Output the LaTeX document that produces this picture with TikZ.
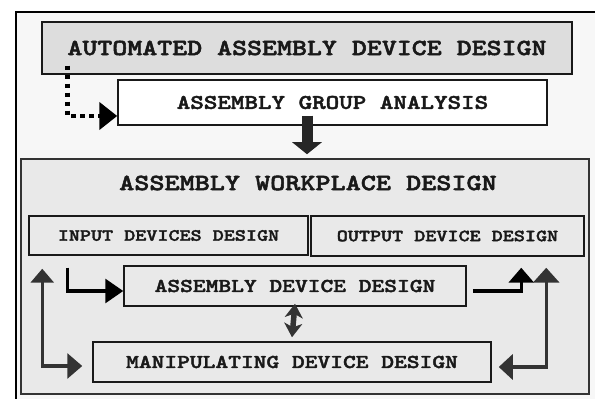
\documentclass[tikz,border=0pt]{standalone}
\usepackage{fontspec}
\newfontfamily\courbf[FakeStretch=1.24,FakeBold=2.2]{lmmonolt10-bold.otf}
\usetikzlibrary{arrows.meta,calc}

\definecolor{framebg}{HTML}{F7F7F7}
\definecolor{panelbg}{HTML}{E9E9E9}
\definecolor{headbg}{HTML}{DDDDDD}
\definecolor{darkline}{HTML}{333333}

\newcommand{\fsz}[1]{\fontsize{#1}{#1}\selectfont}

\tikzset{
  box/.style={draw=black!90, line width=1.5pt, fill=panelbg, inner sep=0pt, text=black!90},
  link/.style={line width=3.2pt},
}

\begin{document}
\begin{tikzpicture}[x=1pt,y=1pt]
\useasboundingbox (0,0) rectangle (595,399);
\fill[white] (0,0) rectangle (595,399);
% Frame
\draw[line width=1.2pt, fill=framebg] (16,387) rectangle (612,-12);

% Top part
\node[box, fill=headbg, minimum width=530pt, minimum height=52pt, font=\courbf\fsz{23}] (auto) at (307,351) {AUTOMATED ASSEMBLY DEVICE DESIGN};
\node[box, fill=white, minimum width=429pt, minimum height=45pt, font=\courbf\fsz{20.8}] (analysis) at (332.5,296.5) {ASSEMBLY GROUP ANALYSIS};

% Workplace
\node[box, draw=darkline, minimum width=568pt, minimum height=235pt] (panel) at (305,122.5) {};
\node[font=\courbf\fsz{23.2}, text=black!90] (ptitle) at (308,216) {ASSEMBLY WORKPLACE DESIGN};

\node[box, minimum width=279pt, minimum height=39pt, font=\courbf\fsz{17}] (input) at (168.5,163.5) {INPUT DEVICES DESIGN};
\node[box, minimum width=273pt, minimum height=40pt, font=\courbf\fsz{17}] (output) at (447.5,163) {OUTPUT DEVICE DESIGN};
\node[box, minimum width=342pt, minimum height=40pt, font=\courbf\fsz{19.6}] (assembly) at (295,113) {ASSEMBLY DEVICE DESIGN};
\node[box, minimum width=398pt, minimum height=40pt, font=\courbf\fsz{19.6}] (manip) at (292,37) {MANIPULATING DEVICE DESIGN};

% Arrows
\coordinate (d0) at ([shift={(26,9)}]auto.south west);
\draw[line width=4.5pt, dash pattern=on 4.5pt off 4.5pt, -{Triangle[length=18pt,width=27pt]}] (d0) |- ([yshift=-13.5pt]analysis.west);

\draw[line width=11pt, draw=black!85, -{Triangle[length=12pt,width=29pt]}] ($(auto.south |- analysis.south)+(0,10)$) -- ($(auto.south |- panel.north)+(0,4)$);

\coordinate (i0) at ([shift={(39,-12)}]input.south west);
\draw[link, -{Triangle[length=18pt,width=24pt]}] (i0) |- ([yshift=-5pt]assembly.west);

\coordinate (l0) at ([shift={(14,-13)}]input.south west);
\draw[link, draw=darkline, {Triangle[length=14pt,width=23pt]}-{Triangle[length=15pt,width=25pt]}] (l0) |- ([shift={(-10,-4)}]manip.west);

\draw[line width=5.5pt, draw=darkline, {Stealth[length=14pt,width=18pt,inset=4pt]}-{Stealth[length=14pt,width=18pt,inset=4pt]}] ([yshift=3pt]assembly.south) -- ([yshift=4pt]manip.north);

\coordinate (o1) at ([shift={(211,-11)}]output.south west);
\draw[link, -{Triangle[length=15pt,width=25pt]}] ([shift={(6,-5)}]assembly.east) -| (o1);

\coordinate (r1) at ([shift={(236,-11)}]output.south west);
\draw[link, draw=darkline, {Triangle[length=14pt,width=25pt]}-{Triangle[length=15pt,width=26pt]}] ([shift={(7,-5)}]manip.east) -| (r1);

\end{tikzpicture}
\end{document}
